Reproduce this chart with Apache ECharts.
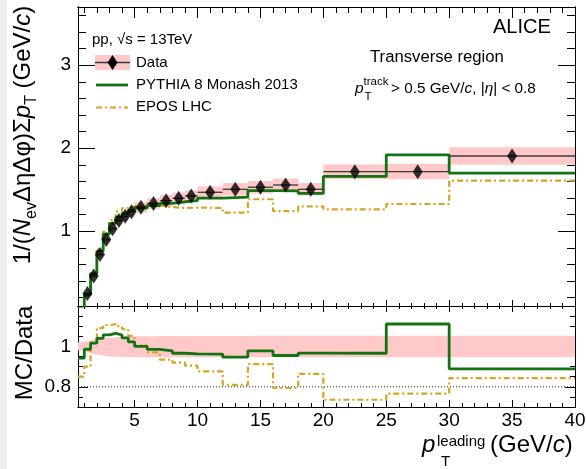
<!DOCTYPE html>
<html>
<head>
<meta charset="utf-8">
<script src="https://cdn.jsdelivr.net/npm/echarts@6/dist/echarts.min.js"></script>
<style>html,body{margin:0;padding:0;background:#fff}#c{width:586px;height:469px}</style>
</head>
<body>
<div id="c"></div>
<script>
// ---------------- data ----------------
const binEdges = [0.5, 1, 1.5, 2, 2.5, 3, 3.5, 4, 4.5, 5, 6, 7, 8, 9, 10, 12, 14, 16, 18, 20, 25, 30, 40];
const binCenters = [0.75, 1.25, 1.75, 2.25, 2.75, 3.25, 3.75, 4.25, 4.75, 5.5, 6.5, 7.5, 8.5, 9.5, 11, 13, 15, 17, 19, 22.5, 27.5, 35];
const dataValues = [0.08, 0.25, 0.46, 0.72, 0.90, 1.03, 1.13, 1.18, 1.235, 1.29, 1.335, 1.368, 1.397, 1.425, 1.469, 1.505, 1.53, 1.557, 1.505, 1.717, 1.717, 1.906];
const dataSysLow = [0.077, 0.243, 0.445, 0.695, 0.865, 0.985, 1.08, 1.125, 1.175, 1.225, 1.27, 1.30, 1.33, 1.355, 1.397, 1.43, 1.455, 1.48, 1.43, 1.63, 1.625, 1.80];
const dataSysHigh = [0.083, 0.257, 0.475, 0.745, 0.935, 1.075, 1.18, 1.235, 1.295, 1.355, 1.40, 1.436, 1.465, 1.495, 1.54, 1.58, 1.605, 1.635, 1.58, 1.805, 1.81, 2.01];
const pythiaValues = [0.075, 0.235, 0.49, 0.76, 0.965, 1.095, 1.17, 1.215, 1.25, 1.28, 1.31, 1.335, 1.355, 1.37, 1.40, 1.41, 1.49, 1.485, 1.455, 1.66, 1.92, 1.70];
const eposValues = [0.07, 0.245, 0.49, 0.785, 0.995, 1.135, 1.24, 1.28, 1.30, 1.31, 1.31, 1.29, 1.28, 1.285, 1.28, 1.225, 1.385, 1.243, 1.30, 1.264, 1.328, 1.609];
const pythiaRatio = [0.942, 0.986, 1.016, 1.04, 1.057, 1.065, 1.056, 1.042, 1.022, 1.0, 0.985, 0.978, 0.966, 0.963, 0.962, 0.947, 0.978, 0.955, 0.967, 0.966, 1.111, 0.889];
const eposRatio = [0.85, 0.90, 1.02, 1.09, 1.105, 1.11, 1.10, 1.085, 1.052, 1.005, 0.97, 0.935, 0.92, 0.905, 0.876, 0.81, 0.912, 0.794, 0.864, 0.736, 0.766, 0.843];
const ratioBandLow = [0.98, 0.972, 0.962, 0.957, 0.953, 0.95, 0.949, 0.948, 0.947, 0.946, 0.946, 0.946, 0.946, 0.946, 0.946, 0.946, 0.946, 0.946, 0.946, 0.946, 0.946, 0.946];
const ratioBandHigh = [1.02, 1.026, 1.032, 1.037, 1.041, 1.044, 1.046, 1.048, 1.049, 1.05, 1.05, 1.051, 1.051, 1.052, 1.052, 1.052, 1.053, 1.053, 1.053, 1.053, 1.053, 1.053];
const ratioReference = [[0.5, 0.8], [40, 0.8]];

// ---------------- ticks / labels ----------------
const xMajorTicks = [5, 10, 15, 20, 25, 30, 35, 40];
const xMinorTicks = [1, 2, 3, 4, 6, 7, 8, 9, 11, 12, 13, 14, 16, 17, 18, 19, 21, 22, 23, 24, 26, 27, 28, 29, 31, 32, 33, 34, 36, 37, 38, 39];
const upperYMajorTicks = [1, 2, 3];
const upperYMinorTicks = [0.2, 0.4, 0.6, 0.8, 1.2, 1.4, 1.6, 1.8, 2.2, 2.4, 2.6, 2.8, 3.2, 3.4, 3.6];
const lowerYMajorTicks = [0.8, 1];
const lowerYMinorTicks = [0.75, 0.85, 0.9, 0.95, 1.05, 1.1, 1.15];

// ---------------- styling ----------------
const FONT = 'Liberation Sans';
const BLACK = '#000';
const GREEN = '#137313';
const GOLD = '#d8a420';
const PINK = '#ffc9c9';
const DASHDOT = [6, 3, 2, 3];

function stepData(values) {
  const pts = values.map((v, i) => [binEdges[i], v]);
  pts.push([binEdges[binEdges.length - 1], values[values.length - 1]]);
  return pts;
}

function xAx(grid, pos, ticks, len, label) {
  return {
    type: 'value', gridIndex: grid, position: pos, min: 0.5, max: 40,
    axisLine: {show: true, onZero: false, lineStyle: {color: BLACK, width: 1}},
    axisTick: {show: true, inside: true, length: len, customValues: ticks, lineStyle: {color: BLACK, width: 1}},
    axisLabel: label ? Object.assign({show: true, customValues: ticks, color: BLACK, fontFamily: FONT}, label) : {show: false},
    splitLine: {show: false}, minorTick: {show: false}
  };
}
function yAx(grid, pos, min, max, ticks, len, label) {
  return {
    type: 'value', gridIndex: grid, position: pos, min: min, max: max,
    axisLine: {show: true, onZero: false, lineStyle: {color: BLACK, width: 1}},
    axisTick: {show: true, inside: true, length: len, customValues: ticks, lineStyle: {color: BLACK, width: 1}},
    axisLabel: label ? Object.assign({show: true, customValues: ticks, color: BLACK, fontFamily: FONT}, label) : {show: false},
    splitLine: {show: false}, minorTick: {show: false}
  };
}

const UMIN = 0.1, UMAX = 3.7, LMIN = 0.7, LMAX = 1.2;

const xAxes = [
  xAx(0, 'bottom', xMajorTicks, 6),
  xAx(0, 'bottom', xMinorTicks, 3),
  xAx(0, 'top', xMajorTicks, 11),
  xAx(0, 'top', xMinorTicks, 6),
  xAx(1, 'bottom', xMajorTicks, 7, {fontSize: 19, margin: 4}),
  xAx(1, 'bottom', xMinorTicks, 4),
  xAx(1, 'top', xMajorTicks, 6),
  xAx(1, 'top', xMinorTicks, 3)
];
const yAxes = [
  yAx(0, 'left', UMIN, UMAX, upperYMajorTicks, 17, {fontSize: 19, margin: 7}),
  yAx(0, 'left', UMIN, UMAX, upperYMinorTicks, 8),
  yAx(0, 'right', UMIN, UMAX, upperYMajorTicks, 17),
  yAx(0, 'right', UMIN, UMAX, upperYMinorTicks, 8),
  yAx(1, 'left', LMIN, LMAX, lowerYMajorTicks, 10, {fontSize: 19, margin: 7}),
  yAx(1, 'left', LMIN, LMAX, lowerYMinorTicks, 5),
  yAx(1, 'right', LMIN, LMAX, lowerYMajorTicks, 10),
  yAx(1, 'right', LMIN, LMAX, lowerYMinorTicks, 5)
];

const series = [
  // upper: systematic boxes
  {
    type: 'custom', xAxisIndex: 0, yAxisIndex: 0, z: 1, clip: true, silent: true,
    data: binCenters.map((c, i) => [binEdges[i], binEdges[i + 1], dataSysLow[i], dataSysHigh[i]]),
    encode: {x: [0, 1], y: [2, 3]},
    renderItem: function (params, api) {
      const a = api.coord([api.value(0), api.value(3)]);
      const b = api.coord([api.value(1), api.value(2)]);
      return {type: 'rect', shape: {x: a[0], y: a[1], width: b[0] - a[0], height: b[1] - a[1]}, style: {fill: PINK}};
    }
  },
  {
    type: 'line', xAxisIndex: 0, yAxisIndex: 0, z: 2, step: 'end', showSymbol: false, symbol: 'none', silent: true,
    data: stepData(eposValues), lineStyle: {color: GOLD, width: 2.2, type: DASHDOT}
  },
  {
    type: 'line', xAxisIndex: 0, yAxisIndex: 0, z: 3, step: 'end', showSymbol: false, symbol: 'none', silent: true,
    data: stepData(pythiaValues), lineStyle: {color: GREEN, width: 2.8}
  },
  {
    type: 'custom', xAxisIndex: 0, yAxisIndex: 0, z: 4, clip: true, silent: true,
    data: binCenters.map((c, i) => [binEdges[i], binEdges[i + 1], dataValues[i]]),
    encode: {x: [0, 1], y: 2},
    renderItem: function (params, api) {
      const a = api.coord([api.value(0), api.value(2)]);
      const b = api.coord([api.value(1), api.value(2)]);
      return {type: 'line', shape: {x1: a[0], y1: a[1], x2: b[0], y2: b[1]}, style: {stroke: '#3a3a3a', lineWidth: 1.3}};
    }
  },
  {
    type: 'scatter', xAxisIndex: 0, yAxisIndex: 0, z: 5, clip: true, silent: true,
    symbol: 'diamond', symbolSize: [10, 15],
    data: binCenters.map((c, i) => [c, dataValues[i]]),
    itemStyle: {color: BLACK}
  },
  // lower: data uncertainty band
  {
    type: 'custom', xAxisIndex: 4, yAxisIndex: 4, z: 1, clip: true, silent: true,
    data: [[binEdges[0], 1]],
    renderItem: function (params, api) {
      const xs = [binEdges[0]].concat(binCenters, [binEdges[binEdges.length - 1]]);
      const hi = [ratioBandHigh[0]].concat(ratioBandHigh, [ratioBandHigh[ratioBandHigh.length - 1]]);
      const lo = [ratioBandLow[0]].concat(ratioBandLow, [ratioBandLow[ratioBandLow.length - 1]]);
      const top = xs.map((x, i) => api.coord([x, hi[i]]));
      const bot = xs.map((x, i) => api.coord([x, lo[i]])).reverse();
      return {type: 'polygon', shape: {points: top.concat(bot)}, style: {fill: PINK}};
    }
  },
  {
    type: 'line', xAxisIndex: 4, yAxisIndex: 4, z: 2, showSymbol: false, symbol: 'none', silent: true,
    data: ratioReference, lineStyle: {color: '#222', width: 1, type: [1, 2]}
  },
  {
    type: 'line', xAxisIndex: 4, yAxisIndex: 4, z: 3, step: 'end', showSymbol: false, symbol: 'none', silent: true,
    data: stepData(eposRatio), lineStyle: {color: GOLD, width: 2.2, type: DASHDOT}
  },
  {
    type: 'line', xAxisIndex: 4, yAxisIndex: 4, z: 4, step: 'end', showSymbol: false, symbol: 'none', silent: true,
    data: stepData(pythiaRatio), lineStyle: {color: GREEN, width: 2.8}
  }
];

function txt(x, y, text, size, italic) {
  return {
    type: 'text', x: x, y: y, silent: true,
    style: {text: text, fontSize: size, fontFamily: FONT, fontStyle: italic ? 'italic' : 'normal', fill: BLACK, align: 'left', verticalAlign: 'middle', textAlign: 'left', textVerticalAlign: 'middle'}
  };
}
function rich(size, subSize, subLH) {
  return {
    n: {fontSize: size, fontFamily: FONT, fill: BLACK, lineHeight: size + 10},
    i: {fontSize: size, fontFamily: FONT, fontStyle: 'italic', fill: BLACK, lineHeight: size + 10},
    s: {fontSize: subSize, fontFamily: FONT, fill: BLACK, lineHeight: subLH, verticalAlign: 'bottom'}
  };
}

const graphic = [
  {type: 'rect', silent: true, z: -10, shape: {x: 0, y: 0, width: 7, height: 469}, style: {fill: '#eeeeee'}},
  // y titles
  {
    type: 'text', x: 23, y: 135, rotation: Math.PI / 2, silent: true,
    style: {
      text: '{n|1/(}{i|N}{s|ev}{n|ΔηΔφ)Σ}{i|p}{s|T}{n| (GeV/}{i|c}{n|)}',
      rich: rich(24, 16, 14), align: 'center', verticalAlign: 'middle', textAlign: 'center', textVerticalAlign: 'middle'
    }
  },
  {
    type: 'text', x: 25, y: 353, rotation: Math.PI / 2, silent: true,
    style: {text: 'MC/Data', fontSize: 24, fontFamily: FONT, fill: BLACK, align: 'center', verticalAlign: 'middle', textAlign: 'center', textVerticalAlign: 'middle'}
  },
  // x title
  txt(422, 445, 'p', 24, true),
  txt(437, 442, 'leading', 15),
  txt(441, 462, 'T', 15),
  {
    type: 'text', x: 490, y: 445, silent: true,
    style: {text: '{n|(GeV/}{i|c}{n|)}', rich: rich(24, 16, 14), align: 'left', verticalAlign: 'middle'}
  },
  // annotations
  txt(92, 40, 'pp, √s = 13TeV', 15),
  txt(493, 27, 'ALICE', 20),
  txt(370, 57, 'Transverse region', 16.7),
  txt(355, 89, 'p', 15.5, true),
  txt(363.5, 82, 'track', 11.5),
  txt(364.5, 96.5, 'T', 11.5),
  {
    type: 'text', x: 391, y: 89, silent: true,
    style: {text: '{n|> 0.5 GeV/}{i|c}{n|, |}{i|η}{n|| < 0.8}', rich: rich(15.3, 10, 10), align: 'left', verticalAlign: 'middle'}
  },
  // legend
  {type: 'rect', silent: true, shape: {x: 95, y: 55, width: 35, height: 15}, style: {fill: PINK}},
  {type: 'line', silent: true, shape: {x1: 95, y1: 62.5, x2: 130, y2: 62.5}, style: {stroke: '#3a3a3a', lineWidth: 1.3}},
  {type: 'polygon', silent: true, shape: {points: [[107.5, 62.5], [112.5, 55], [117.5, 62.5], [112.5, 70]]}, style: {fill: BLACK}},
  txt(136, 62.5, 'Data', 15),
  {type: 'line', silent: true, shape: {x1: 96, y1: 85, x2: 128, y2: 85}, style: {stroke: GREEN, lineWidth: 2.8}},
  txt(136, 85, 'PYTHIA 8 Monash 2013', 15),
  {type: 'line', silent: true, shape: {x1: 96, y1: 107.5, x2: 128, y2: 107.5}, style: {stroke: GOLD, lineWidth: 2.2, lineDash: DASHDOT}},
  txt(136, 107, 'EPOS LHC', 15)
];

const chart = echarts.init(document.getElementById('c'), null, {renderer: 'canvas', width: 586, height: 469});
chart.setOption({
  animation: false,
  backgroundColor: '#ffffff',
  textStyle: {fontFamily: FONT},
  grid: [
    {left: 78, top: 7, width: 497, height: 299, containLabel: false, outerBoundsMode: 'none'},
    {left: 78, top: 306, width: 497, height: 101, containLabel: false, outerBoundsMode: 'none'}
  ],
  xAxis: xAxes,
  yAxis: yAxes,
  series: series,
  graphic: graphic
});
</script>
</body>
</html>
